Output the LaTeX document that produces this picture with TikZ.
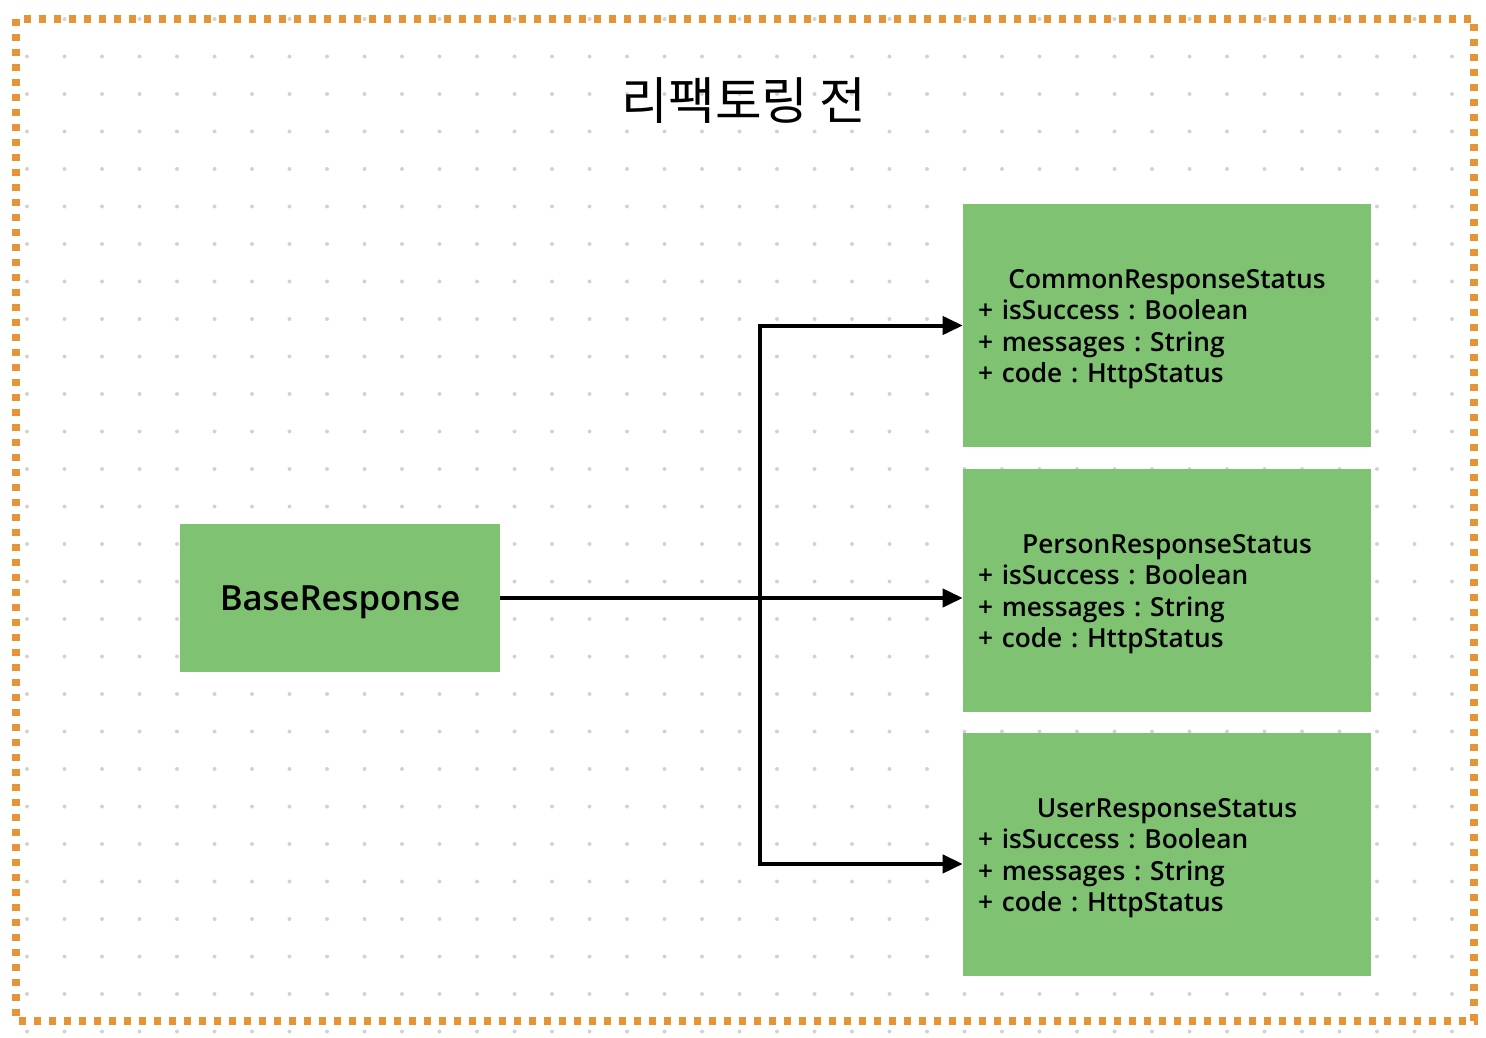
\documentclass[tikz,border=0pt]{standalone}
\usepackage{fontspec}
\setmainfont{Open Sans}
\IfFontExistsTF{Open Sans SemiBold}{\newfontfamily\sbfont{Open Sans SemiBold}}{%
  \IfFontExistsTF{Open Sans Semibold}{\newfontfamily\sbfont{Open Sans Semibold}}{\newfontfamily\sbfont{Open Sans}[FakeBold=1.6]}}
\newfontfamily\krfont{Noto Sans CJK KR}
\usetikzlibrary{arrows.meta}
\definecolor{boxgreen}{RGB}{126,194,114}
\definecolor{frameorange}{RGB}{229,148,55}
\definecolor{dotgray}{RGB}{210,210,210}
\frenchspacing
\begin{document}
\begin{tikzpicture}[x=0.75pt,y=-0.75pt,
  box/.style={fill=boxgreen, draw=none, inner sep=0pt},
  classbox/.style={box, minimum width=306pt, minimum height=182.25pt},
  classtext/.style={text width=283.5pt, align=left, inner sep=0pt, font=\sbfont\fontsize{19.7}{23.6}\selectfont},
  conn/.style={line width=3pt, -{Triangle[length=15pt,width=13.5pt]}},
  frame/.style={draw=frameorange, line width=6pt, dash pattern=on 5.6pt off 5.65pt},
  dot/.style={fill=dotgray}]
\useasboundingbox (0,0) rectangle (1486,1038);
\foreach \i in {0,...,38} {
  \foreach \j in {0,...,27} {
    \fill[dot] (27+37.5*\i, 19+37.5*\j) circle[radius=1.5pt];
  }
}
\draw[frame] (16,19) rectangle (1474,1021);
\node[font=\krfont\fontsize{38}{44}\selectfont] (title) at (744,101) {리팩토링 전};
\node[box, minimum width=240pt, minimum height=111pt] (base) at (340,598) {};
\node[font=\sbfont\fontsize{26}{30}\selectfont] (baselabel) at (340,602) {BaseResponse};
\node[classbox] (common) at (1167,325.5) {};
\node[classbox] (person) at (1167,590.5) {};
\node[classbox] (user) at (1167,854.5) {};
\node[classtext] (commontext) at (1167,329) {\makebox[\hsize]{CommonResponseStatus}\\+ isSuccess : Boolean\\+ messages : String\\+ code : HttpStatus};
\node[classtext] (persontext) at (1167,594) {\makebox[\hsize]{PersonResponseStatus}\\+ isSuccess : Boolean\\+ messages : String\\+ code : HttpStatus};
\node[classtext] (usertext) at (1167,858) {\makebox[\hsize]{UserResponseStatus}\\+ isSuccess : Boolean\\+ messages : String\\+ code : HttpStatus};
\coordinate (split) at (760,598);
\draw[conn] (base.east) -- (person.west |- base.east);
\draw[conn] (base.east) -- (split) |- (common.west);
\draw[conn] (base.east) -- (split) |- ([yshift=-7.1pt]user.west);
\end{tikzpicture}
\end{document}
